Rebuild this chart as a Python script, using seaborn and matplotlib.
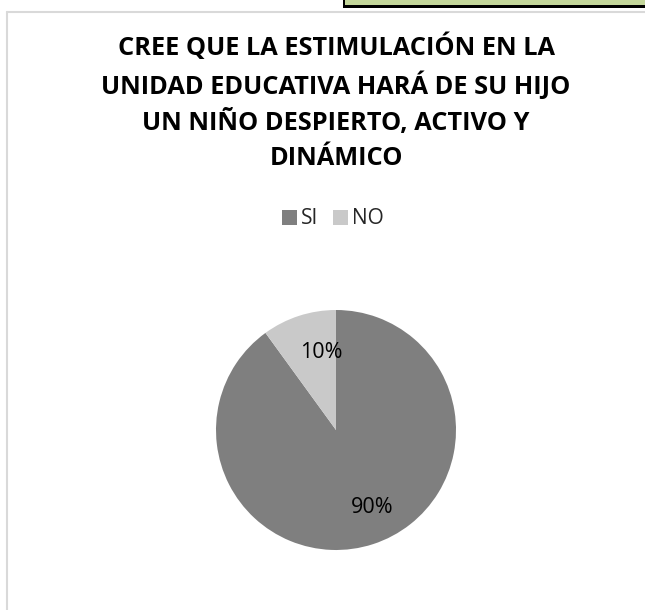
import matplotlib
matplotlib.use("Agg")
import matplotlib.pyplot as plt
import seaborn as sns
from matplotlib.patches import Rectangle
from matplotlib.lines import Line2D

# respuestas de la encuesta (porcentaje)
categorias = ["SI", "NO"]
valores = [90, 10]
colores = ["#7f7f7f", "#c9c9c9"]

titulo = ("CREE QUE LA ESTIMULACIÓN EN LA\n"
          "UNIDAD EDUCATIVA HARÁ DE SU HIJO\n"
          "UN NIÑO DESPIERTO, ACTIVO Y\n"
          "DINÁMICO")

sns.set_theme(style="white")
plt.rcParams["font.family"] = ["Open Sans", "DejaVu Sans"]

W, H = 645, 610
fig = plt.figure(figsize=(W / 100, H / 100), dpi=100)


def fx(px):
    return px / W


def fy(py):
    return 1 - py / H


# borde del grafico (gris claro) y franja verde de la hoja de calculo
fig.add_artist(Line2D([fx(7), 1], [fy(12), fy(12)], color="#d9d9d9", lw=1.5))
fig.add_artist(Line2D([fx(7), fx(7)], [fy(12), 0], color="#d9d9d9", lw=1.5))
fig.add_artist(Rectangle((fx(345), fy(6)), 1 - fx(345), 6 / H,
                         facecolor="#c4d79b", edgecolor="none"))
fig.add_artist(Rectangle((fx(343), fy(8)), 1 - fx(343), 3 / H,
                         facecolor="black", edgecolor="none"))
fig.add_artist(Rectangle((fx(343), fy(8)), 2 / W, 8 / H,
                         facecolor="black", edgecolor="none"))

# titulo
fig.text(fx(336), fy(102), titulo, ha="center", va="center",
         fontsize=18.3, fontweight="bold", linespacing=1.5, color="black")

# pastel
ax = fig.add_axes([fx(216), fy(550), 240 / W, 240 / H])
wedges, _, autotexts = ax.pie(
    valores, colors=colores, startangle=90, counterclock=False,
    autopct=lambda p: f"{p:.0f}%", pctdistance=0.68,
    wedgeprops=dict(linewidth=0),
    textprops=dict(fontsize=15.5, color="black"))
for t in autotexts:
    x, y = t.get_position()
    t.set_position((x + 0.09, y))
ax.set_xlim(-1, 1)
ax.set_ylim(-1, 1)
ax.set_aspect("equal")

# leyenda
fig.legend(wedges, categorias, loc="center", bbox_to_anchor=(fx(333), fy(219)),
           ncol=2, frameon=False, fontsize=15, handlelength=0.7,
           handleheight=0.7, handletextpad=0.2, columnspacing=0.7)

fig.savefig("out.png", dpi=100, facecolor="white")
